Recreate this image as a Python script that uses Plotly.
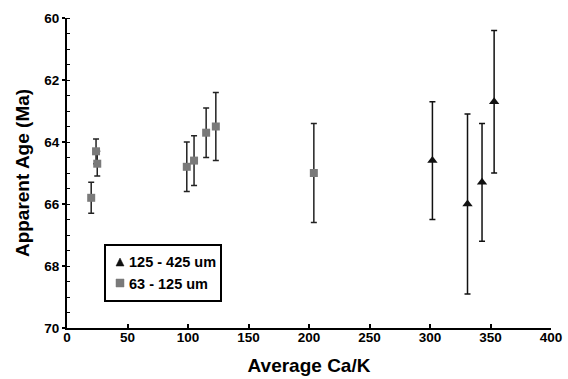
import plotly.graph_objects as go

# Data: 63 - 125 um (squares)
sq_x = [20, 24, 25, 99, 105, 115, 123, 204]
sq_y = [65.8, 64.3, 64.7, 64.8, 64.6, 63.7, 63.5, 65.0]
sq_err = [0.5, 0.4, 0.4, 0.8, 0.8, 0.8, 1.1, 1.6]

# Data: 125 - 425 um (triangles)
tr_x = [302, 331, 343, 353]
tr_y = [64.6, 66.0, 65.3, 62.7]
tr_err = [1.9, 2.9, 1.9, 2.3]

legend_names = ["125 - 425 um", "63 - 125 um"]

FONT = "Arial, 'Liberation Sans', sans-serif"
W, H = 568, 379
L, R, T, B = 67, 17, 18, 51
PW, PH = W - L - R, H - T - B


def px(xp):
    return (xp - L) / PW


def py(yp):
    return 1 - (yp - T) / PH


fig = go.Figure()

fig.add_trace(go.Scatter(
    x=sq_x, y=sq_y, mode="markers", name=legend_names[1],
    marker=dict(symbol="square", size=8, color="#7a7a7a"),
    error_y=dict(type="data", array=sq_err, visible=True, color="#222", thickness=1.5, width=3),
    showlegend=False,
))
fig.add_trace(go.Scatter(
    x=tr_x, y=tr_y, mode="markers", name=legend_names[0],
    marker=dict(symbol="triangle-up", size=9, color="#111"),
    error_y=dict(type="data", array=tr_err, visible=True, color="#111", thickness=1.5, width=3),
    showlegend=False,
))

# manual legend box
shapes = [
    dict(type="rect", xref="paper", yref="paper",
         x0=px(105), x1=px(221), y0=py(301), y1=py(245),
         line=dict(color="black", width=2), fillcolor="white", layer="above"),
    dict(type="path", xref="paper", yref="paper",
         path=f"M {px(116)},{py(266)} L {px(124)},{py(266)} L {px(120)},{py(258)} Z",
         line=dict(color="#111", width=0.5), fillcolor="#111", layer="above"),
    dict(type="rect", xref="paper", yref="paper",
         x0=px(116), x1=px(124), y0=py(287), y1=py(279),
         line=dict(color="#7a7a7a", width=0.5), fillcolor="#7a7a7a", layer="above"),
]
annotations = [
    dict(xref="paper", yref="paper", x=px(127), y=py(262), xanchor="left", yanchor="middle",
         text=legend_names[0], showarrow=False,
         font=dict(family=FONT, size=14.5, color="black", weight="bold")),
    dict(xref="paper", yref="paper", x=px(127), y=py(284), xanchor="left", yanchor="middle",
         text=legend_names[1], showarrow=False,
         font=dict(family=FONT, size=14.5, color="black", weight="bold")),
]

fig.update_layout(
    width=W, height=H,
    margin=dict(l=L, r=R, t=T, b=B),
    paper_bgcolor="white", plot_bgcolor="white",
    font=dict(family=FONT, size=13.5, color="black", weight="bold"),
    showlegend=False,
    shapes=shapes,
    annotations=annotations,
    xaxis=dict(
        range=[0, 400], dtick=50, tick0=0,
        showline=True, linecolor="black", linewidth=2,
        ticks="inside", ticklen=4, tickwidth=1.5, tickcolor="black",
        ticklabelstandoff=-4,
        showgrid=False, zeroline=False, automargin=False,
        title=dict(text="Average Ca/K", font=dict(family=FONT, size=19, weight="bold"), standoff=14),
        tickfont=dict(family=FONT, size=13.5, weight="bold"),
    ),
    yaxis=dict(
        range=[70, 60], dtick=2, tick0=60,
        showline=True, linecolor="black", linewidth=2,
        ticks="outside", ticklen=3, tickwidth=1.5, tickcolor="black",
        minor=dict(dtick=0.5, ticks="inside", ticklen=3, tickwidth=1, tickcolor="black"),
        showgrid=False, zeroline=False, automargin=False,
        title=dict(text="Apparent Age (Ma)", font=dict(family=FONT, size=19, weight="bold"), standoff=10),
        tickfont=dict(family=FONT, size=13.5, weight="bold"),
    ),
)

fig.write_html(
    "out.html",
    config={"displayModeBar": False},
    post_script="document.body.style.margin='0px';document.body.style.overflow='hidden';",
)
